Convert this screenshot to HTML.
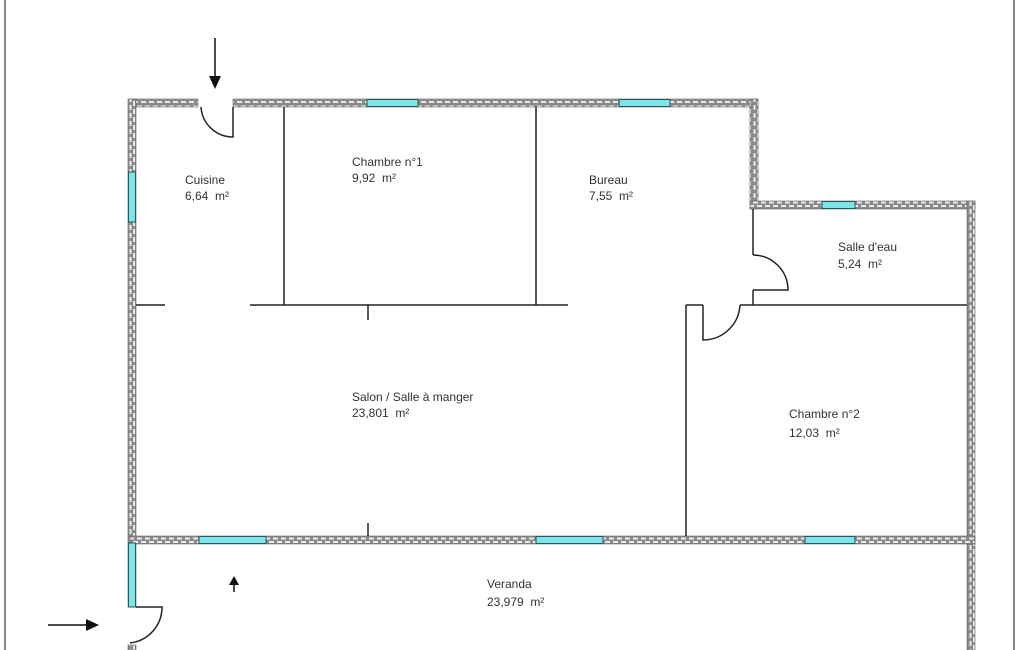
<!DOCTYPE html>
<html><head><meta charset="utf-8"><style>
html,body{margin:0;padding:0;background:#fff;}
svg{display:block;}
text{font-family:"Liberation Sans",sans-serif;font-size:12px;fill:#333;}
</style></head><body>
<svg width="1025" height="650" viewBox="0 0 1025 650" xmlns="http://www.w3.org/2000/svg">
<defs>
<pattern id="bh" width="8" height="8" patternUnits="userSpaceOnUse">
<rect width="8" height="8" fill="#8a8a8a"/>
<rect x="1" y="1.5" width="5" height="2" fill="#e8e8e8"/>
<rect x="5" y="5" width="5" height="2" fill="#e8e8e8"/>
<rect x="-3" y="5" width="5" height="2" fill="#e8e8e8"/>
</pattern>
<pattern id="bv" width="8" height="8" patternUnits="userSpaceOnUse">
<rect width="8" height="8" fill="#8a8a8a"/>
<rect x="1.5" y="1" width="2" height="5" fill="#e8e8e8"/>
<rect x="5" y="5" width="2" height="5" fill="#e8e8e8"/>
<rect x="5" y="-3" width="2" height="5" fill="#e8e8e8"/>
</pattern>
</defs>
<rect x="0" y="0" width="1025" height="650" fill="#fff"/>
<line x1="5" y1="0" x2="5" y2="650" stroke="#888" stroke-width="2"/>
<line x1="1014" y1="0" x2="1014" y2="650" stroke="#888" stroke-width="2"/>

<g stroke="#666" stroke-width="0.6">
<rect x="130" y="99" width="68" height="8" fill="url(#bh)"/>
<rect x="233" y="99" width="525" height="8" fill="url(#bh)"/>
<rect x="750" y="99" width="8" height="110" fill="url(#bv)"/>
<rect x="750" y="201" width="225" height="8" fill="url(#bh)"/>
<rect x="967" y="201" width="8" height="449" fill="url(#bv)"/>
<rect x="128" y="99" width="8" height="508" fill="url(#bv)"/>
<rect x="128" y="645" width="8" height="5" fill="url(#bv)"/>
<rect x="130" y="536" width="845" height="8" fill="url(#bh)"/>
</g>
<g fill="#7fe3e8" stroke="#1f5a5e" stroke-width="1">
<rect x="367" y="99.5" width="51" height="7"/>
<rect x="619" y="99.5" width="51" height="7"/>
<rect x="822" y="201.5" width="33" height="7"/>
<rect x="128.5" y="172" width="7" height="50"/>
<rect x="128.5" y="543" width="7" height="64"/>
<rect x="199" y="536.5" width="67" height="7"/>
<rect x="536" y="536.5" width="67" height="7"/>
<rect x="805" y="536.5" width="50" height="7"/>
</g>

<g stroke="#222" stroke-width="1.5" fill="none">
<line x1="284" y1="107" x2="284" y2="305"/>
<line x1="536" y1="107" x2="536" y2="305"/>
<line x1="136" y1="305" x2="165" y2="305"/>
<line x1="250" y1="305" x2="568" y2="305"/>
<line x1="368" y1="305" x2="368" y2="320"/>
<line x1="368" y1="523" x2="368" y2="536"/>
<line x1="753" y1="209" x2="753" y2="255"/>
<line x1="753" y1="290" x2="753" y2="305"/>
<line x1="740" y1="305" x2="967" y2="305"/>
<line x1="686" y1="305" x2="686" y2="536"/>
<line x1="686" y1="305" x2="703" y2="305"/>
<path d="M233 107 L233 137 A32 32 0 0 1 201 107"/>
<path d="M753 255 A35 35 0 0 1 788 290 L753 290"/>
<path d="M703 305 L703 340 A37 37 0 0 0 740 305"/>
<path d="M136 607 L162 607 A36 36 0 0 1 130 643"/>
</g>

<g stroke="#111" stroke-width="1.5" fill="#111">
<line x1="215" y1="38" x2="215" y2="78"/>
<polygon points="209,76 221,76 215,89" stroke="none"/>
<line x1="48" y1="625" x2="86" y2="625"/>
<polygon points="86,619 86,631 99,625" stroke="none"/>
<line x1="234" y1="582" x2="234" y2="592"/>
<polygon points="229,585 239,585 234,576" stroke="none"/>
</g>

<text x="185" y="184">Cuisine</text>
<text x="185" y="200">6,64&#160;&#160;m²</text>
<text x="352" y="166">Chambre n°1</text>
<text x="352" y="182">9,92&#160;&#160;m²</text>
<text x="589" y="184">Bureau</text>
<text x="589" y="200">7,55&#160;&#160;m²</text>
<text x="838" y="251">Salle d'eau</text>
<text x="838" y="268">5,24&#160;&#160;m²</text>
<text x="352" y="401">Salon / Salle à manger</text>
<text x="352" y="417">23,801&#160;&#160;m²</text>
<text x="789" y="418">Chambre n°2</text>
<text x="789" y="437">12,03&#160;&#160;m²</text>
<text x="487" y="588">Veranda</text>
<text x="487" y="606">23,979&#160;&#160;m²</text>
</svg>
</body></html>
